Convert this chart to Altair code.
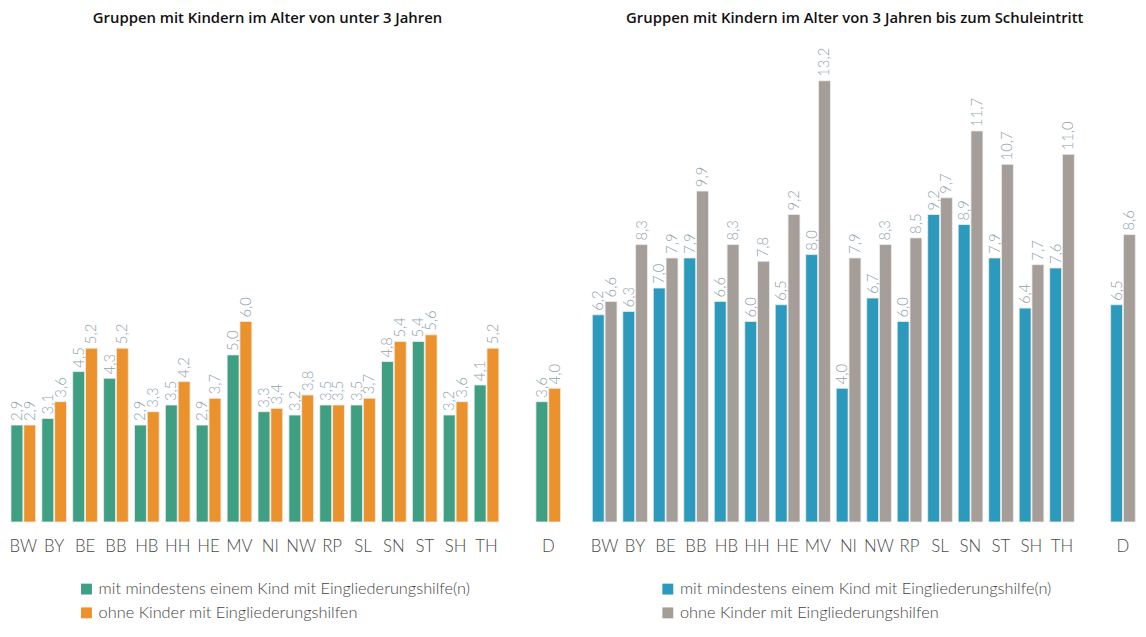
import altair as alt
import pandas as pd

states = ["BW", "BY", "BE", "BB", "HB", "HH", "HE", "MV", "NI", "NW",
          "RP", "SL", "SN", "ST", "SH", "TH", "D"]
x_domain = states[:-1] + [" "] + ["D"]

series = ["mit mindestens einem Kind mit Eingliederungshilfe(n)",
          "ohne Kinder mit Eingliederungshilfen"]

u3_with = [2.9, 3.1, 4.5, 4.3, 2.9, 3.5, 2.9, 5.0, 3.3, 3.2, 3.5, 3.5, 4.8, 5.4, 3.2, 4.1, 3.6]
u3_without = [2.9, 3.6, 5.2, 5.2, 3.3, 4.2, 3.7, 6.0, 3.4, 3.8, 3.5, 3.7, 5.4, 5.6, 3.6, 5.2, 4.0]

o3_with = [6.2, 6.3, 7.0, 7.9, 6.6, 6.0, 6.5, 8.0, 4.0, 6.7, 6.0, 9.2, 8.9, 7.9, 6.4, 7.6, 6.5]
o3_without = [6.6, 8.3, 7.9, 9.9, 8.3, 7.8, 9.2, 13.2, 7.9, 8.3, 8.5, 9.7, 11.7, 10.7, 7.7, 11.0, 8.6]

title_left = "Gruppen mit Kindern im Alter von unter 3 Jahren"
title_right = "Gruppen mit Kindern im Alter von 3 Jahren bis zum Schuleintritt"

colors_left = ["#3f9f83", "#ec922c"]
colors_right = ["#2c9abd", "#a59d98"]

FONT = "Lato"


def panel(title, with_vals, without_vals, colors, legend_x, title_dx, width):
    df = pd.DataFrame({
        "Land": states * 2,
        "Gruppe": [series[0]] * len(states) + [series[1]] * len(states),
        "Wert": with_vals + without_vals,
    })
    base = alt.Chart(df).encode(
        x=alt.X("Land:N", sort=x_domain,
                scale=alt.Scale(domain=x_domain, paddingInner=0.2, paddingOuter=0),
                axis=alt.Axis(title=None, ticks=False, domain=False, labelAngle=0,
                              labelFontSize=17, labelColor="#4a4a4a", labelPadding=17,
                              labelFont=FONT, labelFontWeight=300)),
        xOffset=alt.XOffset("Gruppe:N", scale=alt.Scale(domain=series, paddingInner=0.07)),
        y=alt.Y("Wert:Q", scale=alt.Scale(domain=[0, 14.4], nice=False), axis=None),
    )
    bars = base.mark_bar(stroke="#eeeeee", strokeWidth=0.8).encode(
        color=alt.Color("Gruppe:N", scale=alt.Scale(domain=series, range=colors),
                        legend=alt.Legend(title=None, orient="none", legendX=legend_x,
                                          legendY=545.5, direction="vertical", padding=0,
                                          symbolType="square", symbolSize=121,
                                          symbolStrokeWidth=0, labelFontSize=16.5,
                                          labelColor="#444444", labelFont=FONT,
                                          labelFontWeight=300, rowPadding=7,
                                          labelOffset=4, labelLimit=600))
    )
    labels = base.transform_calculate(
        label="replace(format(datum.Wert, '.1f'), '.', ',')"
    ).mark_text(angle=270, align="left", baseline="middle", dx=4, fontSize=15,
                color="#8ea3ad", font=FONT, fontWeight=300).encode(text="label:N")
    return alt.layer(bars, labels).properties(
        width=width, height=486,
        title=alt.Title(title, fontSize=15, font="Open Sans", fontWeight=600, color="#111111",
                        anchor="middle", dx=title_dx, offset=15),
    )


left = panel(title_left, u3_with, u3_without, colors_left, 68, -18.5, 555)
right = panel(title_right, o3_with, o3_without, colors_right, 68, -9, 548)

chart = alt.hconcat(left, right, spacing=27).resolve_scale(
    color="independent"
).properties(padding={"left": 0, "right": 0, "top": 0, "bottom": 0}).configure_view(stroke=None)

chart.save("out.html", embed_options={"renderer": "svg", "actions": False})
